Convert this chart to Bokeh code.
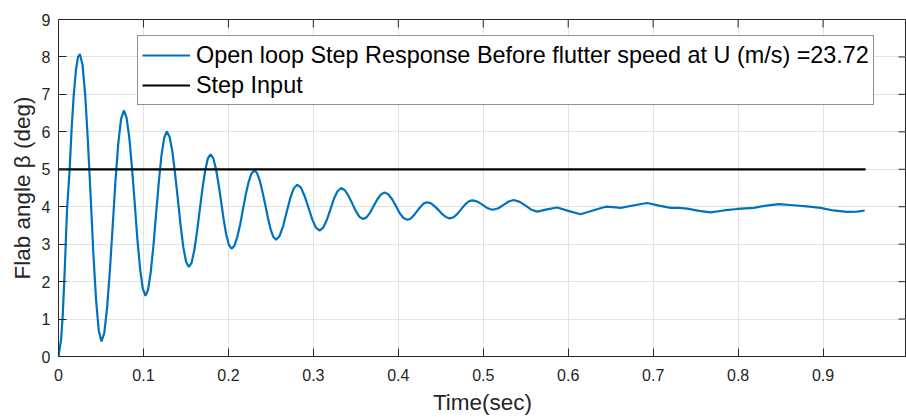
from bokeh.plotting import figure
from bokeh.models import Range1d, FixedTicker
from bokeh.embed import file_html
from bokeh.resources import INLINE

# ---- data ----
time_s = [
    0.0000, 0.0030, 0.0050, 0.0075, 0.0100, 0.0130, 0.0155, 0.0180, 0.0205, 0.0230, 0.0251,
    0.0283, 0.0315, 0.0347, 0.0379, 0.0410, 0.0442, 0.0474, 0.0506,
    0.0539, 0.0572, 0.0605, 0.0638, 0.0670, 0.0703, 0.0736, 0.0769,
    0.0801, 0.0833, 0.0865, 0.0897, 0.0928, 0.0960, 0.0992, 0.1024,
    0.1055, 0.1086, 0.1118, 0.1149, 0.1181, 0.1212, 0.1244, 0.1275,
    0.1307, 0.1340, 0.1372, 0.1405, 0.1437, 0.1469, 0.1502, 0.1534,
    0.1566, 0.1598, 0.1630, 0.1662, 0.1694, 0.1726, 0.1758, 0.1790,
    0.1821, 0.1852, 0.1883, 0.1914, 0.1944, 0.1975, 0.2006, 0.2037,
    0.2071, 0.2104, 0.2138, 0.2171, 0.2205, 0.2238, 0.2272, 0.2305,
    0.2337, 0.2369, 0.2401, 0.2434, 0.2466, 0.2498, 0.2530, 0.2562,
    0.2603, 0.2645, 0.2686, 0.2727, 0.2769, 0.2810,
    0.2854, 0.2898, 0.2942, 0.2986, 0.3030, 0.3074,
    0.3116, 0.3159, 0.3201, 0.3243, 0.3286, 0.3328,
    0.3371, 0.3414, 0.3457, 0.3500, 0.3543, 0.3586,
    0.3628, 0.3670, 0.3712, 0.3754, 0.3796, 0.3838,
    0.3883, 0.3927, 0.3972, 0.4016, 0.4061, 0.4105,
    0.4144, 0.4183, 0.4223, 0.4262, 0.4301, 0.4340,
    0.4385, 0.4429, 0.4474, 0.4518, 0.4563, 0.4607,
    0.4651, 0.4695, 0.4739, 0.4782, 0.4826, 0.4870,
    0.4911, 0.4952, 0.4994, 0.5035, 0.5076, 0.5117,
    0.5178, 0.5239, 0.5299, 0.5360,
    0.5429, 0.5498, 0.5566, 0.5635,
    0.5750, 0.5870, 0.6000, 0.6145, 0.6290, 0.6440, 0.6530, 0.6616,
    0.6780, 0.6930, 0.7070, 0.7204, 0.7300, 0.7400, 0.7540, 0.7675,
    0.7830, 0.7990, 0.8185, 0.8330, 0.8480, 0.8650, 0.8810, 0.8970,
    0.9120, 0.9280, 0.9400, 0.9490,
]
beta_deg = [
    0.00, 0.45, 1.10, 2.40, 3.90, 4.95, 6.10, 7.00, 7.65, 8.00, 8.08,
    7.79, 6.96, 5.71, 4.24, 2.77, 1.52, 0.69, 0.40,
    0.63, 1.30, 2.30, 3.49, 4.67, 5.67, 6.34, 6.57,
    6.38, 5.85, 5.04, 4.10, 3.15, 2.35, 1.81, 1.62,
    1.79, 2.26, 2.97, 3.82, 4.66, 5.37, 5.84, 6.01,
    5.87, 5.48, 4.89, 4.20, 3.51, 2.92, 2.53, 2.39,
    2.50, 2.83, 3.32, 3.90, 4.47, 4.96, 5.29, 5.40,
    5.30, 5.03, 4.62, 4.14, 3.66, 3.25, 2.98, 2.88,
    2.96, 3.19, 3.52, 3.93, 4.33, 4.66, 4.89, 4.97,
    4.90, 4.70, 4.40, 4.05, 3.69, 3.39, 3.19, 3.12,
    3.22, 3.49, 3.86, 4.22, 4.49, 4.59,
    4.51, 4.28, 3.98, 3.67, 3.44, 3.36,
    3.44, 3.65, 3.93, 4.22, 4.42, 4.50,
    4.44, 4.29, 4.09, 3.88, 3.73, 3.67,
    3.72, 3.85, 4.03, 4.20, 4.33, 4.38,
    4.33, 4.20, 4.02, 3.83, 3.70, 3.65,
    3.68, 3.77, 3.89, 4.00, 4.09, 4.12,
    4.09, 4.01, 3.91, 3.80, 3.72, 3.69,
    3.72, 3.81, 3.93, 4.05, 4.14, 4.17,
    4.15, 4.11, 4.05, 3.98, 3.94, 3.92,
    3.96, 4.05, 4.14, 4.18,
    4.13, 4.03, 3.92, 3.87,
    3.93, 3.98, 3.89, 3.80, 3.90, 4.00, 3.99, 3.97,
    4.04, 4.10, 4.03, 3.97, 3.97, 3.95, 3.89, 3.85,
    3.90, 3.94, 3.97, 4.03, 4.07, 4.04, 4.01, 3.97,
    3.90, 3.86, 3.87, 3.90,
]
step_t = [0.0, 0.95]
step_v = [5.0, 5.0]

x_ticks = [0, 0.1, 0.2, 0.3, 0.4, 0.5, 0.6, 0.7, 0.8, 0.9]
x_tick_labels = ["0", "0.1", "0.2", "0.3", "0.4", "0.5", "0.6", "0.7", "0.8", "0.9"]
y_ticks = [0, 1, 2, 3, 4, 5, 6, 7, 8, 9]

series_label = "Open loop Step Response Before flutter speed at U (m/s) =23.72"
step_label = "Step Input"
x_title = "Time(sec)"
y_title = "Flab angle β (deg)"

FONT = "Liberation Sans"
AX = "#262626"
X_END = 0.9982
Y_END = 9

p = figure(width=906, height=417, output_backend="svg", toolbar_location=None,
           x_range=Range1d(0, X_END), y_range=Range1d(0, Y_END),
           min_border_left=58, min_border_right=0, min_border_top=19, min_border_bottom=61)
p.outline_line_color = AX
p.outline_line_width = 1
p.background_fill_color = "white"
p.border_fill_color = "white"

for ax in (p.xaxis[0], p.yaxis[0]):
    ax.axis_line_color = AX
    ax.major_tick_line_color = AX
    ax.major_tick_in = 8
    ax.major_tick_out = 0
    ax.minor_tick_line_color = None
    ax.major_label_text_font = FONT
    ax.major_label_text_font_size = "16px"
    ax.major_label_text_color = AX
    ax.axis_label_text_font = FONT
    ax.axis_label_text_font_size = "22.5px"
    ax.axis_label_text_font_style = "normal"
    ax.axis_label_text_color = AX

p.xaxis.ticker = FixedTicker(ticks=x_ticks)
p.xaxis.major_label_overrides = dict(zip(x_ticks, x_tick_labels))
p.xaxis.major_label_standoff = 12
p.xaxis.axis_label = x_title
p.xaxis.axis_label_standoff = 6

p.yaxis.ticker = FixedTicker(ticks=y_ticks)
p.yaxis.major_label_standoff = 8
p.yaxis.axis_label = y_title
p.yaxis.axis_label_standoff = 4

p.xgrid.ticker = FixedTicker(ticks=x_ticks)
p.ygrid.ticker = FixedTicker(ticks=y_ticks)
p.xgrid.grid_line_color = "#e3e3e3"
p.ygrid.grid_line_color = "#e3e3e3"

# inward tick marks on the top and right sides of the box (MATLAB "box on")
top_len = 8 * Y_END / 337.0
right_len = 8 * X_END / 848.0
p.segment(x0=x_ticks, y0=[Y_END] * len(x_ticks), x1=x_ticks, y1=[Y_END - top_len] * len(x_ticks),
          line_color=AX, line_width=1)
p.segment(x0=[X_END] * len(y_ticks), y0=y_ticks, x1=[X_END - right_len] * len(y_ticks), y1=y_ticks,
          line_color=AX, line_width=1)

p.line(time_s, beta_deg, color="#0072BD", line_width=2.2, legend_label=series_label)
p.line(step_t, step_v, color="black", line_width=2.2, legend_label=step_label)

lg = p.legend[0]
lg.location = (79, 251)
lg.padding = 4
lg.spacing = 0
lg.margin = 0
lg.label_height = 30
lg.glyph_height = 30
lg.glyph_width = 48
lg.label_standoff = 6
lg.label_text_font = FONT
lg.label_text_font_size = "23.4px"
lg.label_text_color = "black"
lg.border_line_color = AX
lg.border_line_width = 1
lg.background_fill_color = "white"
lg.background_fill_alpha = 1.0

open("out.html", "w").write(file_html(p, INLINE))
